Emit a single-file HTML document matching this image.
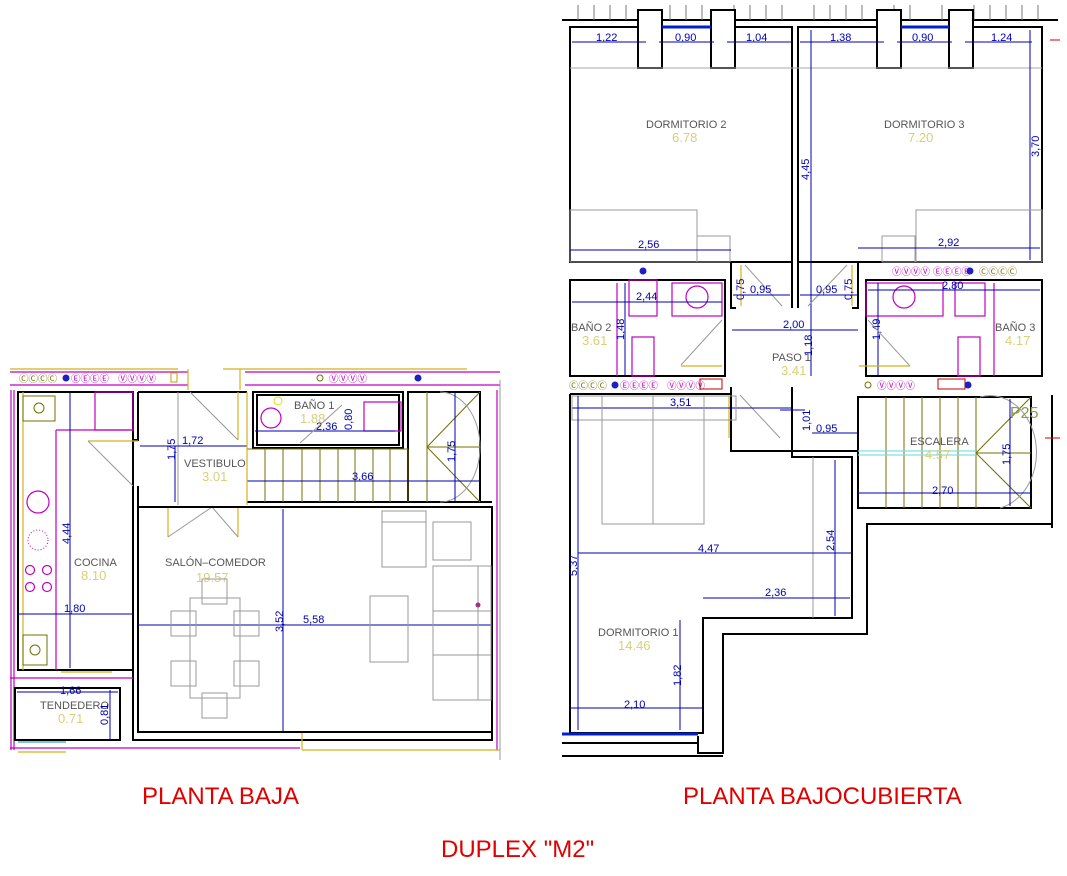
<!DOCTYPE html>
<html><head><meta charset="utf-8"><style>
html,body{margin:0;padding:0;background:#fff;width:1067px;height:876px;overflow:hidden}
svg{display:block}
.w{stroke:#000;stroke-width:2;fill:none}
.g{stroke:#999;stroke-width:1;fill:none}
.y{stroke:#d4b020;stroke-width:1.2;fill:none}
.m{stroke:#c000c0;stroke-width:1.2;fill:none}
.b{stroke:#0000b0;stroke-width:1;fill:none}
.o{stroke:#707000;stroke-width:1;fill:none}
.d{font-family:"Liberation Sans",sans-serif;font-size:11px;fill:#0000b0}
.r{font-family:"Liberation Sans",sans-serif;font-size:11px;fill:#555}
.a{font-family:"Liberation Sans",sans-serif;font-size:13px;fill:#d8d078}
.t{font-family:"Liberation Sans",sans-serif;font-size:24px;fill:#e00000}
.sy{font-family:"DejaVu Sans",sans-serif;font-size:9.5px}
</style></head><body>
<svg width="1067" height="876" viewBox="0 0 1067 876" xmlns="http://www.w3.org/2000/svg">
<!-- ================= PLANTA BAJA ================= -->
<line x1="10" y1="369" x2="178" y2="369" class="y"/>
<line x1="223" y1="369" x2="467" y2="369" class="y"/>
<line x1="10" y1="372" x2="188" y2="372" class="m"/>
<line x1="245" y1="372" x2="500" y2="372" class="m"/>
<line x1="10" y1="385" x2="188" y2="385" class="m"/>
<line x1="245" y1="385" x2="500" y2="385" class="m"/>
<line x1="188" y1="369" x2="188" y2="390" class="y"/>
<line x1="240" y1="369" x2="240" y2="390" class="y"/>
<text x="19" y="382" class="sy" fill="#707000">ⒸⒸⒸⒸ</text>
<circle cx="66" cy="378" r="3.5" fill="#2020c0"/>
<text x="71" y="382" class="sy" fill="#c000c0">ⒺⒺⒺⒺ</text>
<text x="118" y="382" class="sy" fill="#c000c0">ⓋⓋⓋⓋ</text>
<rect x="171" y="373" width="6" height="9" class="y"/>
<circle cx="320" cy="378" r="3" class="o"/>
<text x="329" y="382" class="sy" fill="#c000c0">ⓋⓋⓋⓋ</text>
<circle cx="418" cy="378" r="3.5" fill="#2020c0"/>
<line x1="11" y1="390" x2="11" y2="750" class="m"/>
<line x1="14" y1="390" x2="14" y2="750" class="m"/>
<line x1="497" y1="390" x2="497" y2="750" class="m"/>
<line x1="500" y1="380" x2="500" y2="760" class="g"/>
<!-- Kitchen -->
<rect x="18" y="392" width="115" height="278" class="w"/>
<line x1="23" y1="392" x2="23" y2="670" class="y"/>
<rect x="23" y="396" width="32" height="25" class="o"/>
<circle cx="39" cy="408" r="5" class="o"/>
<line x1="56" y1="430" x2="133" y2="430" class="m"/>
<line x1="56" y1="430" x2="56" y2="670" class="m"/>
<rect x="95" y="392" width="38" height="38" class="m"/>
<circle cx="38" cy="502" r="11" class="m"/>
<circle cx="38" cy="540" r="10" stroke="#c000c0" stroke-dasharray="1,2" fill="none"/>
<circle cx="30" cy="570" r="4.5" class="m"/><circle cx="47" cy="570" r="4.5" class="m"/>
<circle cx="30" cy="587" r="4.5" class="m"/><circle cx="47" cy="587" r="4.5" class="m"/>
<rect x="23" y="635" width="24" height="30" class="o"/>
<circle cx="35" cy="650" r="5" class="o"/>
<line x1="70" y1="393" x2="70" y2="668" class="b"/>
<text x="0" y="0" class="d" transform="translate(70,544) rotate(-90)">4,44</text>
<line x1="18" y1="614" x2="133" y2="614" class="b"/>
<text x="64" y="612" class="d">1,80</text>
<text x="74" y="566" class="r">COCINA</text>
<text x="81" y="580" class="a">8.10</text>
<!-- Vestibulo -->
<polyline points="138,392 138,440 133,440" class="w"/>
<line x1="138" y1="392" x2="247" y2="392" class="w"/>
<line x1="88" y1="441" x2="138" y2="441" class="y"/>
<line x1="88" y1="441" x2="133" y2="486" class="g"/>
<line x1="138" y1="486" x2="138" y2="507" class="w"/>
<line x1="178" y1="392" x2="178" y2="505" class="g"/>
<line x1="190" y1="392" x2="238" y2="440" class="g"/>
<line x1="238" y1="392" x2="238" y2="440" class="y"/>
<line x1="140" y1="446" x2="247" y2="446" class="b"/>
<text x="182" y="444" class="d">1,72</text>
<line x1="175" y1="446" x2="175" y2="502" class="b"/>
<text x="0" y="0" class="d" transform="translate(175,460) rotate(-90)">1,75</text>
<text x="184" y="467" class="r">VESTIBULO</text>
<text x="202" y="481" class="a">3.01</text>
<line x1="168" y1="507" x2="168" y2="537" class="y"/>
<line x1="238" y1="507" x2="238" y2="537" class="y"/>
<line x1="168" y1="537" x2="212" y2="507" class="g"/>
<line x1="238" y1="537" x2="212" y2="507" class="g"/>
<!-- Bano 1 -->
<rect x="253" y="392" width="150" height="56" class="w"/>
<rect x="257" y="395" width="142" height="50" class="w" stroke-width="1"/>
<circle cx="271" cy="418" r="10" class="m"/>
<circle cx="278" cy="401" r="4" stroke="#e0e000" fill="none"/>
<rect x="364" y="402" width="37" height="29" class="m"/>
<line x1="255" y1="431" x2="395" y2="431" class="b"/>
<text x="316" y="430" class="d">2,36</text>
<text x="0" y="0" class="d" transform="translate(352,430) rotate(-90)">0,80</text>
<text x="294" y="409" class="r">BAÑO 1</text>
<text x="300" y="423" class="a">1.88</text>
<line x1="300" y1="443" x2="342" y2="405" class="g"/>
<!-- stairs -->
<rect x="408" y="392" width="72" height="110" class="w"/>
<line x1="247" y1="449" x2="408" y2="449" class="o"/>
<line x1="247" y1="502" x2="492" y2="502" class="w"/>
<g class="o"><line x1="265" y1="449" x2="265" y2="502"/><line x1="283" y1="449" x2="283" y2="502"/><line x1="302" y1="449" x2="302" y2="502"/><line x1="320" y1="449" x2="320" y2="502"/><line x1="338" y1="449" x2="338" y2="502"/><line x1="355" y1="449" x2="355" y2="502"/><line x1="373" y1="449" x2="373" y2="502"/><line x1="390" y1="449" x2="390" y2="502"/><line x1="408" y1="449" x2="408" y2="502"/><line x1="427" y1="392" x2="427" y2="502"/><line x1="427" y1="447" x2="480" y2="392"/><line x1="427" y1="447" x2="480" y2="502"/><line x1="427" y1="447" x2="480" y2="447"/></g>
<path d="M440,392 A40,55 0 0 1 440,502" class="g"/>
<line x1="247" y1="481" x2="480" y2="481" class="b"/>
<text x="352" y="480" class="d">3,66</text>
<line x1="455" y1="392" x2="455" y2="502" class="b"/>
<text x="0" y="0" class="d" transform="translate(455,462) rotate(-90)">1,75</text>
<line x1="247" y1="392" x2="247" y2="505" class="y"/>
<!-- Salon -->
<rect x="138" y="507" width="354" height="225" class="w"/>
<polyline points="133,670 133,740 492,740 492,507" class="w" stroke-width="1"/>
<line x1="302" y1="733" x2="302" y2="750" class="y"/>
<line x1="302" y1="750" x2="500" y2="750" class="y"/>
<line x1="138" y1="625" x2="492" y2="625" class="b"/>
<text x="303" y="623" class="d">5,58</text>
<line x1="283" y1="509" x2="283" y2="731" class="b"/>
<text x="0" y="0" class="d" transform="translate(283,632) rotate(-90)">3,52</text>
<text x="165" y="566" class="r">SALÓN–COMEDOR</text>
<text x="196" y="582" class="a">19.57</text>
<g class="g"><rect x="190" y="598" width="50" height="100"/><rect x="202" y="579" width="25" height="25"/><rect x="202" y="693" width="25" height="25"/><rect x="171" y="611" width="25" height="25"/><rect x="234" y="611" width="25" height="25"/><rect x="171" y="661" width="25" height="25"/><rect x="234" y="661" width="25" height="25"/><rect x="382" y="511" width="44" height="56"/><line x1="382" y1="522" x2="426" y2="522"/><rect x="433" y="522" width="38" height="38"/><rect x="370" y="596" width="38" height="66"/><rect x="433" y="566" width="58" height="134"/><line x1="478" y1="566" x2="478" y2="700"/><line x1="433" y1="611" x2="491" y2="611"/><line x1="433" y1="655" x2="491" y2="655"/></g>
<circle cx="478" cy="605" r="2.5" fill="#a03080"/>
<!-- Tendedero -->
<line x1="10" y1="678" x2="133" y2="678" class="m"/>
<line x1="61" y1="672" x2="112" y2="672" class="y"/>
<rect x="15" y="688" width="105" height="52" class="w"/>
<line x1="17" y1="692" x2="118" y2="692" class="b"/>
<text x="60" y="694" class="d">1,66</text>
<text x="40" y="709" class="r">TENDEDERO</text>
<text x="58" y="723" class="a">0.71</text>
<line x1="110" y1="690" x2="110" y2="740" class="b"/>
<text x="0" y="0" class="d" transform="translate(108,725) rotate(-90)">0,81</text>
<line x1="18" y1="742" x2="66" y2="742" stroke="#80c0e0" stroke-width="2"/>
<line x1="18" y1="752" x2="66" y2="752" class="y"/>
<line x1="10" y1="748" x2="300" y2="748" class="m"/>

<!-- ================= PLANTA BAJOCUBIERTA ================= -->
<line x1="562" y1="20" x2="1058" y2="20" class="w" stroke-width="1"/>
<g stroke="#777" stroke-width="1">
<line x1="578" y1="5" x2="578" y2="20"/><line x1="594" y1="5" x2="594" y2="20"/><line x1="610" y1="5" x2="610" y2="20"/><line x1="626" y1="5" x2="626" y2="20"/><line x1="670" y1="5" x2="670" y2="20"/><line x1="686" y1="5" x2="686" y2="20"/><line x1="702" y1="5" x2="702" y2="20"/><line x1="734" y1="5" x2="734" y2="20"/><line x1="750" y1="5" x2="750" y2="20"/><line x1="766" y1="5" x2="766" y2="20"/><line x1="782" y1="5" x2="782" y2="20"/><line x1="814" y1="5" x2="814" y2="20"/><line x1="830" y1="5" x2="830" y2="20"/><line x1="846" y1="5" x2="846" y2="20"/><line x1="862" y1="5" x2="862" y2="20"/><line x1="894" y1="5" x2="894" y2="20"/><line x1="910" y1="5" x2="910" y2="20"/><line x1="942" y1="5" x2="942" y2="20"/><line x1="974" y1="5" x2="974" y2="20"/><line x1="990" y1="5" x2="990" y2="20"/><line x1="1006" y1="5" x2="1006" y2="20"/><line x1="1022" y1="5" x2="1022" y2="20"/><line x1="1038" y1="5" x2="1038" y2="20"/></g>
<rect x="570" y="27" width="222" height="235" class="w"/>
<rect x="798" y="27" width="244" height="235" class="w"/>
<g class="w">
<rect x="638" y="10" width="24" height="58" fill="#fff"/><rect x="711" y="10" width="24" height="58" fill="#fff"/><rect x="877" y="10" width="24" height="58" fill="#fff"/><rect x="949" y="10" width="24" height="58" fill="#fff"/></g>
<line x1="662" y1="27" x2="711" y2="27" stroke="#0020d0" stroke-width="3"/>
<line x1="901" y1="27" x2="949" y2="27" stroke="#0020d0" stroke-width="3"/>
<line x1="570" y1="68" x2="1042" y2="68" stroke="#aaa"/>
<g class="b"><line x1="572" y1="42" x2="646" y2="42"/><line x1="659" y1="42" x2="714" y2="42"/><line x1="727" y1="42" x2="792" y2="42"/><line x1="800" y1="42" x2="884" y2="42"/><line x1="897" y1="42" x2="952" y2="42"/><line x1="965" y1="42" x2="1032" y2="42"/></g>
<text x="596" y="41" class="d">1,22</text><text x="675" y="41" class="d">0,90</text><text x="746" y="41" class="d">1,04</text>
<text x="830" y="41" class="d">1,38</text><text x="912" y="41" class="d">0,90</text><text x="991" y="41" class="d">1,24</text>
<line x1="1030" y1="30" x2="1030" y2="260" class="b"/>
<text x="0" y="0" class="d" transform="translate(1039,157) rotate(-90)">3,70</text>
<line x1="811" y1="30" x2="811" y2="376" class="b"/>
<text x="0" y="0" class="d" transform="translate(809,180) rotate(-90)">4,45</text>
<text x="646" y="128" class="r">DORMITORIO 2</text><text x="672" y="142" class="a">6.78</text>
<text x="884" y="128" class="r">DORMITORIO 3</text><text x="908" y="142" class="a">7.20</text>
<g class="g"><rect x="570" y="210" width="127" height="52"/><rect x="697" y="236" width="33" height="26"/><rect x="916" y="210" width="126" height="52"/><rect x="882" y="236" width="33" height="26"/></g>
<line x1="570" y1="250" x2="731" y2="250" class="b"/><text x="638" y="248" class="d">2,56</text>
<line x1="858" y1="248" x2="1040" y2="248" class="b"/><text x="938" y="246" class="d">2,92</text>
<polyline points="731,262 731,308 736,308" class="w"/>
<polyline points="792,262 792,308" class="w"/>
<polyline points="798,262 798,308" class="w"/>
<polyline points="858,262 858,308 852,308" class="w"/>
<line x1="741" y1="265" x2="741" y2="306" class="y"/><line x1="852" y1="265" x2="852" y2="306" class="y"/>
<line x1="745" y1="265" x2="782" y2="306" class="g"/><line x1="847" y1="265" x2="808" y2="306" class="g"/>
<line x1="733" y1="295" x2="790" y2="295" class="b"/><line x1="800" y1="295" x2="857" y2="295" class="b"/>
<text x="750" y="293" class="d">0,95</text><text x="816" y="293" class="d">0,95</text>
<text x="0" y="0" class="d" transform="translate(744,300) rotate(-90)">0,75</text>
<text x="852" y="300" class="d" transform="rotate(-90 852 300)">0,75</text>
<line x1="732" y1="330" x2="858" y2="330" class="b"/><text x="783" y="328" class="d">2,00</text>
<text x="772" y="361" class="r">PASO 1</text><text x="781" y="375" class="a">3.41</text>
<text x="0" y="0" class="d" transform="translate(812,356) rotate(-90)">1,18</text>
<circle cx="643" cy="271" r="3.5" fill="#2020c0"/>
<text x="892" y="275" class="sy" fill="#c000c0">ⓋⓋⓋⓋ ⒺⒺⒺⒺ</text>
<circle cx="970" cy="271" r="3.5" fill="#2020c0"/>
<text x="979" y="275" class="sy" fill="#707000">ⒸⒸⒸⒸ</text>
<rect x="570" y="280" width="155" height="96" class="w"/>
<g class="m"><rect x="629" y="280" width="28" height="36"/><rect x="672" y="283" width="50" height="33"/><rect x="632" y="337" width="22" height="39"/><line x1="617" y1="283" x2="617" y2="376"/></g>
<circle cx="697" cy="297" r="11" class="m"/>
<line x1="572" y1="302" x2="722" y2="302" class="b"/><text x="636" y="300" class="d">2,44</text>
<line x1="625" y1="283" x2="625" y2="376" class="b"/>
<text x="0" y="0" class="d" transform="translate(624,340) rotate(-90)">1,48</text>
<text x="571" y="331" class="r">BAÑO 2</text><text x="582" y="345" class="a">3.61</text>
<line x1="681" y1="365" x2="722" y2="320" class="g"/><line x1="681" y1="366" x2="722" y2="366" class="y"/>
<rect x="866" y="280" width="176" height="96" class="w"/>
<g class="m"><rect x="866" y="283" width="77" height="33"/><rect x="955" y="283" width="30" height="33"/><rect x="958" y="337" width="22" height="39"/><line x1="994" y1="283" x2="994" y2="376"/></g>
<circle cx="904" cy="297" r="11" class="m"/>
<line x1="868" y1="290" x2="1040" y2="290" class="b"/><text x="942" y="289" class="d">2,80</text>
<line x1="878" y1="283" x2="878" y2="376" class="b"/>
<text x="0" y="0" class="d" transform="translate(880,340) rotate(-90)">1,49</text>
<text x="995" y="331" class="r">BAÑO 3</text><text x="1005" y="345" class="a">4.17</text>
<line x1="910" y1="366" x2="868" y2="320" class="g"/><line x1="859" y1="366" x2="910" y2="366" class="y"/>
<text x="569" y="389" class="sy" fill="#707000">ⒸⒸⒸⒸ</text>
<circle cx="615" cy="385" r="3.5" fill="#2020c0"/>
<text x="620" y="389" class="sy" fill="#c000c0">ⒺⒺⒺⒺ</text>
<text x="667" y="389" class="sy" fill="#c000c0">ⓋⓋⓋⓋ</text>
<rect x="700" y="379" width="22" height="10" stroke="#c00000" fill="none"/>
<circle cx="868" cy="385" r="3" class="o"/>
<text x="877" y="389" class="sy" fill="#c000c0">ⓋⓋⓋⓋ</text>
<rect x="938" y="379" width="27" height="10" stroke="#c00000" fill="none"/>
<circle cx="968" cy="385" r="3.5" fill="#2020c0"/>
<polyline points="570,394 731,394 731,387" class="w"/>
<polyline points="792,387 792,457 852,457 852,618 703,618 703,733 570,733 570,394" class="w"/>
<polyline points="731,388 731,451 858,451 858,397" class="w" stroke-width="1"/>
<line x1="729" y1="396" x2="729" y2="438" class="y"/>
<line x1="740" y1="395" x2="780" y2="438" class="g"/>
<line x1="572" y1="408" x2="792" y2="408" class="b"/><text x="670" y="406" class="d">3,51</text>
<g class="g"><rect x="572" y="396" width="164" height="24"/><rect x="602" y="396" width="102" height="128"/><line x1="653" y1="396" x2="653" y2="524"/><line x1="813" y1="457" x2="813" y2="618"/></g>
<line x1="578" y1="396" x2="578" y2="730" class="b"/>
<text x="0" y="0" class="d" transform="translate(577,576) rotate(-90)">5,37</text>
<line x1="578" y1="553" x2="852" y2="553" class="b"/><text x="698" y="552" class="d">4,47</text>
<line x1="835" y1="460" x2="835" y2="616" class="b"/>
<text x="0" y="0" class="d" transform="translate(834,551) rotate(-90)">2,54</text>
<line x1="703" y1="598" x2="850" y2="598" class="b"/><text x="765" y="596" class="d">2,36</text>
<line x1="680" y1="620" x2="680" y2="730" class="b"/>
<text x="0" y="0" class="d" transform="translate(681,686) rotate(-90)">1,82</text>
<line x1="570" y1="708" x2="703" y2="708" class="b"/><text x="624" y="708" class="d">2,10</text>
<line x1="780" y1="410" x2="805" y2="410" class="b"/>
<line x1="812" y1="433" x2="858" y2="433" class="b"/><text x="816" y="432" class="d">0,95</text>
<text x="0" y="0" class="d" transform="translate(810,431) rotate(-90)">1,01</text>
<text x="598" y="636" class="r">DORMITORIO 1</text><text x="618" y="650" class="a">14.46</text>
<line x1="562" y1="734" x2="698" y2="734" stroke="#0020d0" stroke-width="3"/>
<line x1="562" y1="743" x2="698" y2="743" class="w" stroke-width="1"/>
<polyline points="698,736 698,753 723,753 723,634 867,634 867,524 1052,524" class="w" stroke-width="1"/>
<line x1="562" y1="756" x2="723" y2="756" class="w" stroke-width="1"/>
<line x1="1052" y1="395" x2="1052" y2="528" class="w" stroke-width="1"/>
<rect x="858" y="397" width="173" height="111" class="w"/>
<g class="o"><line x1="886" y1="397" x2="886" y2="508"/><line x1="904" y1="397" x2="904" y2="508"/><line x1="922" y1="397" x2="922" y2="508"/><line x1="940" y1="397" x2="940" y2="508"/><line x1="958" y1="397" x2="958" y2="508"/><line x1="976" y1="397" x2="976" y2="508"/><line x1="976" y1="453" x2="1031" y2="397"/><line x1="976" y1="453" x2="1031" y2="508"/><line x1="976" y1="453" x2="1031" y2="453"/></g>
<line x1="858" y1="451" x2="976" y2="451" stroke="#80e0e0" stroke-width="1.2"/>
<line x1="858" y1="455" x2="976" y2="455" stroke="#80e0e0" stroke-width="1.2"/>
<path d="M980,397 A45,55 0 0 1 1000,508" class="g"/>
<line x1="858" y1="493" x2="1031" y2="493" class="b"/><text x="932" y="494" class="d">2,70</text>
<line x1="1010" y1="399" x2="1010" y2="506" class="b"/>
<text x="0" y="0" class="d" transform="translate(1010,465) rotate(-90)">1,75</text>
<text x="910" y="445" class="r">ESCALERA</text><text x="925" y="459" class="a">4.57</text>
<text x="1010" y="418" font-family="Liberation Sans" font-size="16" fill="#8a9a50">P25</text>
<line x1="1050" y1="40" x2="1060" y2="40" stroke="#d00000"/>
<line x1="1045" y1="438" x2="1060" y2="438" stroke="#d00000"/>
<text x="142" y="804" class="t">PLANTA BAJA</text>
<text x="683" y="804" class="t">PLANTA BAJOCUBIERTA</text>
<text x="441" y="857" class="t">DUPLEX "M2"</text>
</svg>
</body></html>
